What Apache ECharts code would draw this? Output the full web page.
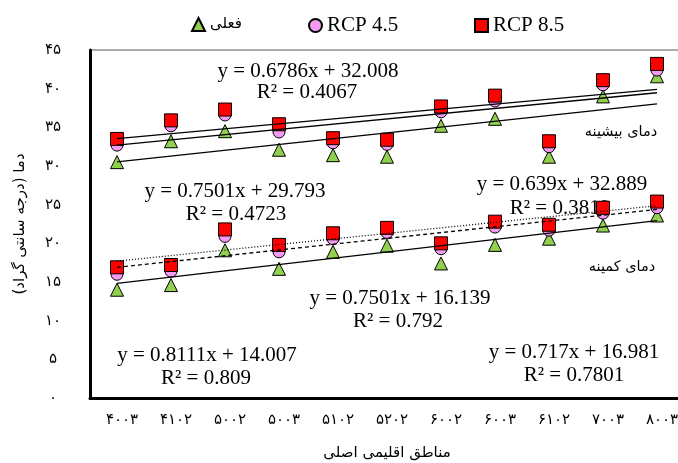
<!DOCTYPE html>
<html><head><meta charset="utf-8">
<script src="https://cdn.jsdelivr.net/npm/echarts@6/dist/echarts.min.js"></script>
<style>html,body{margin:0;padding:0;background:#fff}#c{width:678px;height:463px}</style>
</head><body><div id="c"></div>
<script>
const categories = ['۴۰۰۳','۴۱۰۲','۵۰۰۲','۵۰۰۳','۵۱۰۲','۵۲۰۲','۶۰۰۲','۶۰۰۳','۶۱۰۲','۷۰۰۳','۸۰۰۳'];
const yTickLabels = ['۰','۵','۱۰','۱۵','۲۰','۲۵','۳۰','۳۵','۴۰','۴۵'];
const seriesNames = ['فعلی','RCP 4.5','RCP 8.5'];

// maximum temperature
const maxCurrent = [30.5,33.2,34.5,32.1,31.4,31.2,35.2,36.1,31.2,39.0,41.6];
const maxRcp45   = [32.7,35.2,36.6,34.4,33.0,32.8,37.0,38.4,32.5,40.5,42.4];
const maxRcp85   = [33.5,35.9,37.3,35.4,33.6,33.4,37.7,39.1,33.2,41.1,43.2];
// minimum temperature
const minCurrent = [14.0,14.6,19.1,16.7,18.9,19.7,17.4,19.8,20.6,22.3,23.6];
const minRcp45   = [16.0,16.4,20.9,18.9,20.6,21.4,19.3,22.1,21.7,23.9,24.6];
const minRcp85   = [16.9,17.2,21.8,19.8,21.3,22.0,20.0,22.8,22.4,24.6,25.4];

// trend lines as printed on the chart (slope, intercept), x = 1..11
const maxTrendSlopes     = [0.7501, 0.6786, 0.639];
const maxTrendIntercepts = [29.793, 32.008, 32.889];
const minTrendSlopes     = [0.8111, 0.7501, 0.717];
const minTrendIntercepts = [14.007, 16.139, 16.981];

const equationTexts = ['y = 0.6786x + 32.008','R² = 0.4067','y = 0.7501x + 29.793','R² = 0.4723',
  'y = 0.639x + 32.889','R² = 0.3819','y = 0.7501x + 16.139','R² = 0.792',
  'y = 0.8111x + 14.007','R² = 0.809','y = 0.717x + 16.981','R² = 0.7801'];
const groupLabels = ['دمای بیشینه','دمای کمینه'];

const symbols = ['triangle','circle','rect'];
const colors = ['#92D050','#F49AF0','#FF0000'];
const sizes = [13,12,13];

function scatter(idx, data){
  return {type:'scatter', name:seriesNames[idx], data:data, symbol:symbols[idx], symbolSize:sizes[idx],
    z: 2+idx, itemStyle:{color:colors[idx], borderColor:'#000', borderWidth:1, opacity:1},
    emphasis:{disabled:true}};
}
function trend(slope, intercept, type){
  const n = categories.length;
  return {type:'line', data:[[0, slope*1+intercept],[n-1, slope*n+intercept]], symbol:'none', z:6,
    silent:true, lineStyle:{color:'#000', width:1.3, type:type}};
}
const series = [
  scatter(0,maxCurrent), scatter(1,maxRcp45), scatter(2,maxRcp85),
  scatter(0,minCurrent), scatter(1,minRcp45), scatter(2,minRcp85),
  trend(maxTrendSlopes[0],maxTrendIntercepts[0],'solid'),
  trend(maxTrendSlopes[1],maxTrendIntercepts[1],'solid'),
  trend(maxTrendSlopes[2],maxTrendIntercepts[2],'solid'),
  trend(minTrendSlopes[0],minTrendIntercepts[0],'solid'),
  trend(minTrendSlopes[1],minTrendIntercepts[1],[4,3]),
  trend(minTrendSlopes[2],minTrendIntercepts[2],[1,2])
];

const eqPos = [[308,71],[307,92],[235,191],[236,214],[562,184],[560,208],[400,298],[398,321],[207,355],[206,378],[574,352],[574,375]];
const graphics = equationTexts.map((t,i)=>({type:'text', x:eqPos[i][0], y:eqPos[i][1], z:1,
  style:{text:t, fontFamily:'Liberation Serif', fontSize:21, fill:'#000', align:'center', verticalAlign:'middle'}}));
const glPos = [[621,132],[622,267]];
groupLabels.forEach((t,i)=>graphics.push({type:'text', x:glPos[i][0], y:glPos[i][1], z:1,
  style:{text:t, fontFamily:'DejaVu Sans', fontSize:14.5, fill:'#000', align:'center', verticalAlign:'middle'}}));

const legendBase = {top:13, itemWidth:13, itemHeight:13, itemGap:5, selectedMode:false};
const option = {
  animation:false,
  backgroundColor:'#fff',
  legend:[
    Object.assign({}, legendBase, {left:186, top:12, data:[seriesNames[0]], textStyle:{fontFamily:'DejaVu Sans', fontSize:15, color:'#000'}}),
    Object.assign({}, legendBase, {left:303, top:10, data:[seriesNames[1]], textStyle:{fontFamily:'Liberation Serif', fontSize:21, color:'#000'}}),
    Object.assign({}, legendBase, {left:469, top:10, data:[seriesNames[2]], textStyle:{fontFamily:'Liberation Serif', fontSize:21, color:'#000'}})
  ],
  grid:{left:90, top:50, width:594, height:348, show:true, borderColor:'#595959', borderWidth:1, backgroundColor:'transparent',
    outerBoundsMode:'none', containLabel:false},
  xAxis:{type:'category', data:categories, boundaryGap:true,
    name:'مناطق اقلیمی اصلی', nameLocation:'middle', nameGap:48,
    nameTextStyle:{fontFamily:'DejaVu Sans', fontSize:15, color:'#000'},
    axisLine:{lineStyle:{color:'#000', width:3}}, axisTick:{show:false},
    axisLabel:{margin:15, fontFamily:'DejaVu Sans', fontSize:15, color:'#000', padding:[0,0,0,10]},
    splitLine:{show:false}},
  yAxis:{type:'value', min:0, max:45, interval:5,
    name:'دما (درجه سانتی گراد)', nameLocation:'middle', nameGap:62,
    nameTextStyle:{fontFamily:'DejaVu Sans', fontSize:15, color:'#000'},
    axisLine:{show:true, lineStyle:{color:'#000', width:3}}, axisTick:{show:false},
    axisLabel:{margin:37, align:'center', fontFamily:'DejaVu Sans', fontSize:15, color:'#000',
      formatter:(v)=>yTickLabels[Math.round(v/5)]},
    splitLine:{show:false}},
  graphic:graphics,
  series:series
};
const chart = echarts.init(document.getElementById('c'), null, {renderer:'canvas'});
chart.setOption(option);
</script></body></html>
